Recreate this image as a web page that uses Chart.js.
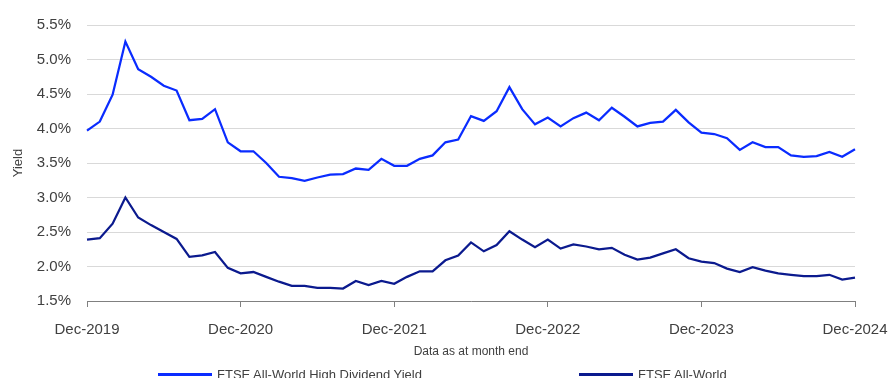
<!DOCTYPE html>
<html>
<head>
<meta charset="utf-8">
<script src="https://cdn.jsdelivr.net/npm/chart.js@4.4.1/dist/chart.umd.min.js"></script>
<style>
  html, body { margin: 0; padding: 0; background: #fff; overflow: hidden; }
  #wrap { width: 889px; height: 378px; position: relative; }
  .legend-item { position: absolute; top: 367px; height: 15px; white-space: nowrap;
    font: 13px Arial, "Liberation Sans", sans-serif; line-height: 15px; color: #404040; }
  .legend-item .swatch { position: absolute; left: 0; top: 6px; width: 54px; height: 2.5px; }
  .legend-item .txt { position: absolute; left: 59px; top: 0; }
</style>
</head>
<body>
<div id="wrap">
  <canvas id="yieldChart"></canvas>
  <div id="legend"></div>
</div>
<script>
// month-end categories, Dec-2019 .. Dec-2024
const monthNames = ['Jan', 'Feb', 'Mar', 'Apr', 'May', 'Jun', 'Jul', 'Aug', 'Sep', 'Oct', 'Nov', 'Dec'];
const months = [];
for (let i = 0; i <= 60; i++) {
  const m = (11 + i) % 12;
  const y = 2019 + Math.floor((11 + i) / 12);
  months.push(monthNames[m] + '-' + y);
}

const yTicks = [1.5, 2.0, 2.5, 3.0, 3.5, 4.0, 4.5, 5.0, 5.5];

// FTSE All-World High Dividend Yield (%)
const highDividend = [
  3.97, 4.10, 4.49, 5.26, 4.86, 4.75, 4.62, 4.55, 4.12, 4.14, 4.28, 3.80,
  3.67, 3.67, 3.50, 3.30, 3.28, 3.24, 3.29, 3.33, 3.34, 3.42, 3.40, 3.56,
  3.46, 3.46, 3.56, 3.61, 3.80, 3.84, 4.18, 4.11, 4.25, 4.60, 4.28, 4.06,
  4.16, 4.03, 4.15, 4.23, 4.12, 4.30, 4.17, 4.03, 4.08, 4.10, 4.27, 4.09,
  3.94, 3.92, 3.86, 3.69, 3.80, 3.73, 3.73, 3.61, 3.59, 3.60, 3.66, 3.59,
  3.70
];

// FTSE All-World (%)
const allWorld = [
  2.39, 2.41, 2.62, 3.00, 2.71, 2.60, 2.50, 2.40, 2.14, 2.16, 2.21, 1.98,
  1.90, 1.92, 1.85, 1.78, 1.72, 1.72, 1.69, 1.69, 1.68, 1.79, 1.73, 1.79,
  1.75, 1.85, 1.93, 1.93, 2.09, 2.16, 2.35, 2.22, 2.31, 2.51, 2.39, 2.28,
  2.39, 2.26, 2.32, 2.29, 2.25, 2.27, 2.17, 2.10, 2.13, 2.19, 2.25, 2.12,
  2.07, 2.05, 1.97, 1.92, 1.99, 1.94, 1.90, 1.88, 1.86, 1.86, 1.88, 1.81,
  1.84
];

const seriesNames = ['FTSE All-World High Dividend Yield', 'FTSE All-World'];
const seriesColors = ['#0a2cff', '#0b1a8e'];
const legendLeft = [158, 579];

const font = 'Arial, "Liberation Sans", sans-serif';

const chart = new Chart(document.getElementById('yieldChart'), {
  type: 'line',
  data: {
    labels: months,
    datasets: [
      {
        label: seriesNames[0],
        data: highDividend,
        borderColor: seriesColors[0],
        backgroundColor: seriesColors[0],
        borderWidth: 2.25,
        pointRadius: 0,
        tension: 0
      },
      {
        label: seriesNames[1],
        data: allWorld,
        borderColor: seriesColors[1],
        backgroundColor: seriesColors[1],
        borderWidth: 2.25,
        pointRadius: 0,
        tension: 0
      }
    ]
  },
  options: {
    responsive: true,
    maintainAspectRatio: false,
    animation: false,
    layout: { padding: { top: 21, left: 0, right: 0, bottom: 15 } },
    scales: {
      x: {
        // keep the last label hanging to the edge like the original
        afterFit: s => { s.height = 62; s.paddingRight = 34; },
        grid: {
          drawOnChartArea: false,
          drawTicks: true,
          tickLength: 6,
          color: '#808080'
        },
        border: { color: '#808080', width: 1 },
        ticks: {
          autoSkip: false,
          maxRotation: 0,
          padding: 14,
          color: '#404040',
          font: { family: font, size: 15 },
          callback: function(value, index) {
            return index % 12 === 0 ? months[index] : null;
          }
        },
        title: {
          display: true,
          text: 'Data as at month end',
          color: '#404040',
          font: { family: font, size: 12 },
          padding: { top: 4, bottom: 4 }
        }
      },
      y: {
        min: 1.5,
        max: 5.5,
        afterFit: s => { s.width = 87; },
        afterBuildTicks: s => { s.ticks = yTicks.map(v => ({ value: v })); },
        grid: { color: '#d9d9d9', drawTicks: false },
        border: { display: false },
        ticks: {
          autoSkip: false,
          padding: 16,
          color: '#404040',
          font: { family: font, size: 15 },
          callback: v => v.toFixed(1) + '%'
        },
        title: {
          display: true,
          text: 'Yield',
          color: '#404040',
          font: { family: font, size: 13 },
          padding: { top: 11, bottom: 0 }
        }
      }
    },
    plugins: {
      legend: { display: false },
      tooltip: { enabled: false }
    }
  }
});

// legend under the axis title, built from the datasets
const legendEl = document.getElementById('legend');
chart.data.datasets.forEach((ds, i) => {
  const item = document.createElement('div');
  item.className = 'legend-item';
  item.style.left = legendLeft[i] + 'px';
  item.innerHTML = '<span class="swatch" style="background:' + ds.borderColor + '"></span>' +
    '<span class="txt">' + ds.label + '</span>';
  legendEl.appendChild(item);
});
</script>
</body>
</html>
